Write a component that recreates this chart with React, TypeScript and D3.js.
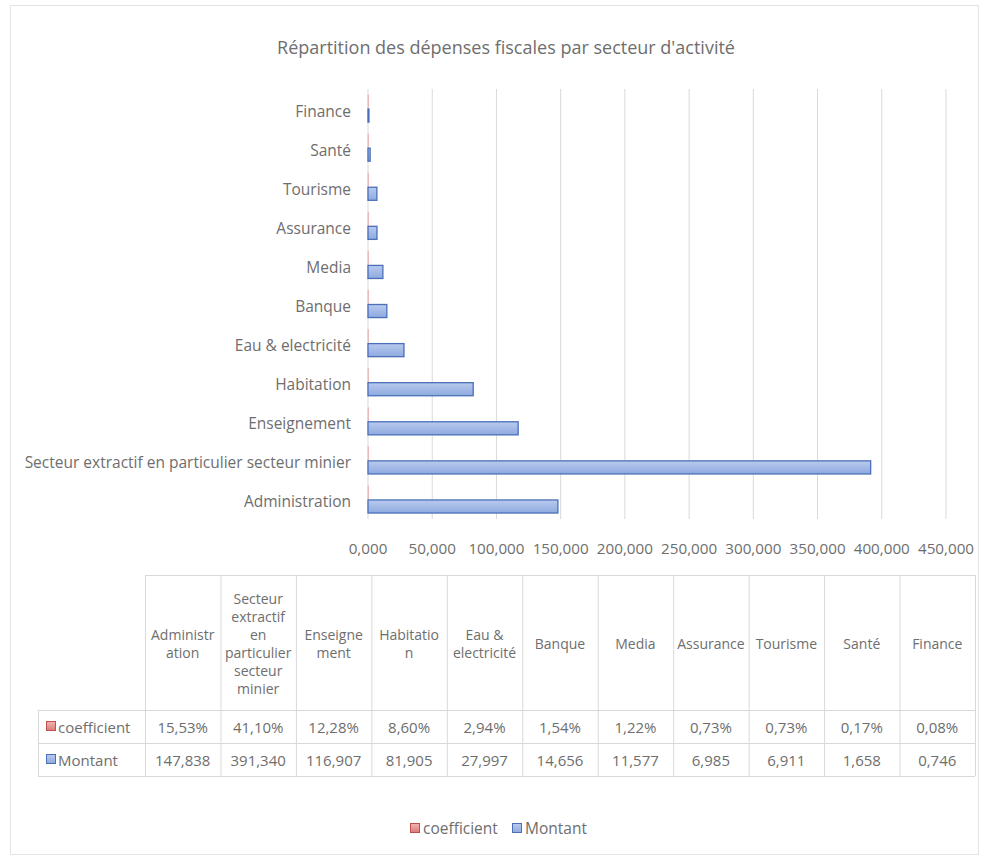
import React from 'react';
import * as d3 from 'd3';

const title = "Répartition des dépenses fiscales par secteur d'activité";
const categories = [
  'Administration',
  'Secteur extractif en particulier secteur minier',
  'Enseignement',
  'Habitation',
  'Eau & electricité',
  'Banque',
  'Media',
  'Assurance',
  'Tourisme',
  'Santé',
  'Finance',
];
const headerLines = [
  ['Administr', 'ation'],
  ['Secteur', 'extractif', 'en', 'particulier', 'secteur', 'minier'],
  ['Enseigne', 'ment'],
  ['Habitatio', 'n'],
  ['Eau &', 'electricité'],
  ['Banque'],
  ['Media'],
  ['Assurance'],
  ['Tourisme'],
  ['Santé'],
  ['Finance'],
];
const montant = [147.838, 391.34, 116.907, 81.905, 27.997, 14.656, 11.577, 6.985, 6.911, 1.658, 0.746];
const coefficient = [0.1553, 0.411, 0.1228, 0.086, 0.0294, 0.0154, 0.0122, 0.0073, 0.0073, 0.0017, 0.0008];
const seriesNames = ['coefficient', 'Montant'];
const xTicks = [0, 50, 100, 150, 200, 250, 300, 350, 400, 450];

const FONT = "'Open Sans', sans-serif";
const TXT = '#6e6e6e';
const GRID = '#d9d9d9';

export default function App() {
  const W = 989;
  const H = 861;
  const x = d3.scaleLinear().domain([0, 450]).range([368, 946]);
  const y = d3
    .scaleBand<string>()
    .domain([...categories].reverse())
    .range([89, 519])
    .paddingInner(0.28)
    .paddingOuter(0.14);
  const sub = d3.scaleBand<string>().domain(seriesNames).range([0, y.bandwidth()]);
  const loc = d3.formatLocale({ decimal: ',', thousands: '\u00a0', grouping: [3], currency: ['', '€'] });
  const f3 = loc.format('.3f');
  const fp = (v: number) => loc.format('.2f')(v * 100) + '%';

  const col = d3.scaleBand<string>().domain(categories).range([145, 975]);
  const tableTop = 575;
  const headerBottom = 710;
  const rowH = 33;
  const rowLabelLeft = 38;
  const fs = 15;

  const rows = [
    { name: 'coefficient', values: coefficient.map(fp), color: 'red' },
    { name: 'Montant', values: montant.map(f3), color: 'blue' },
  ];

  return (
    <div style={{ position: 'absolute', left: 0, top: 0 }}>
      <svg width={W} height={H} style={{ display: 'block', background: '#fff' }}>
        <defs>
          <linearGradient id="gBlue" x1="0" y1="0" x2="0" y2="1">
            <stop offset="0" stopColor="#b9caee" />
            <stop offset="1" stopColor="#8eaadf" />
          </linearGradient>
          <linearGradient id="gRed" x1="0" y1="0" x2="0" y2="1">
            <stop offset="0" stopColor="#f2b3b1" />
            <stop offset="1" stopColor="#dc7b78" />
          </linearGradient>
        </defs>
        <rect x={10.5} y={5.5} width={968} height={849} fill="#fff" stroke="#e3e3e3" />
        <text x={506} y={47} textAnchor="middle" dominantBaseline="central" fontFamily={FONT} fontSize={18} fill={TXT}>
          {title}
        </text>

        {/* gridlines */}
        {xTicks.map((t) => (
          <line key={'g' + t} x1={x(t)} x2={x(t)} y1={89} y2={519} stroke={GRID} strokeWidth={1} />
        ))}
        {/* tick labels */}
        {xTicks.map((t) => (
          <text key={'t' + t} x={x(t)} y={548} textAnchor="middle" dominantBaseline="central" fontFamily={FONT} fontSize={15.2} fill={TXT}>
            {f3(t)}
          </text>
        ))}

        {/* category labels */}
        {categories.map((c) => (
          <text key={'c' + c} x={351} y={(y(c) as number) + y.bandwidth() / 2 + 2} textAnchor="end" dominantBaseline="central" fontFamily={FONT} fontSize={15.5} fill={TXT}>
            {c}
          </text>
        ))}

        {/* bars */}
        {categories.map((c, i) => (
          <g key={'b' + c}>
            <rect
              x={x(0)}
              y={(y(c) as number) + (sub('coefficient') as number) + 0.5}
              width={Math.max(0.5, x(coefficient[i]) - x(0))}
              height={sub.bandwidth() - 1}
              fill="url(#gRed)"
              stroke="#e8a09e"
              strokeWidth={0.8}
              opacity={0.7}
            />
            <rect
              x={x(0)}
              y={(y(c) as number) + (sub('Montant') as number) + 0.5}
              width={Math.max(0.5, x(montant[i]) - x(0))}
              height={sub.bandwidth() - 1}
              fill="url(#gBlue)"
              stroke="#4a6fb8"
              strokeWidth={1.3}
            />
          </g>
        ))}

        {/* data table */}
        <g fontFamily={FONT} fontSize={fs} fill={TXT}>
          <line x1={145} x2={975} y1={tableTop + 0.5} y2={tableTop + 0.5} stroke={GRID} />
          {[0, 1, 2].map((r) => (
            <line key={'h' + r} x1={rowLabelLeft} x2={975} y1={headerBottom + r * rowH + 0.5} y2={headerBottom + r * rowH + 0.5} stroke={GRID} />
          ))}
          <line x1={rowLabelLeft + 0.5} x2={rowLabelLeft + 0.5} y1={headerBottom} y2={headerBottom + 2 * rowH} stroke={GRID} />
          {categories.map((c) => (
            <line key={'v' + c} x1={(col(c) as number) + 0.5} x2={(col(c) as number) + 0.5} y1={tableTop} y2={headerBottom + 2 * rowH} stroke={GRID} />
          ))}
          <line x1={975.5} x2={975.5} y1={tableTop} y2={headerBottom + 2 * rowH} stroke={GRID} />

          {categories.map((c, i) => {
            const lines = headerLines[i];
            const lh = 18;
            const cy = (tableTop + headerBottom) / 2 + 1;
            const cx = (col(c) as number) + col.bandwidth() / 2;
            return (
              <g key={'ht' + c}>
                {lines.map((l, k) => (
                  <text key={k} x={cx} y={cy + (k - (lines.length - 1) / 2) * lh} textAnchor="middle" dominantBaseline="central" fontSize={14}>
                    {l}
                  </text>
                ))}
              </g>
            );
          })}

          {rows.map((row, r) => {
            const cy = headerBottom + r * rowH + rowH / 2;
            return (
              <g key={'r' + row.name}>
                <rect x={46.5} y={cy - 5} width={9} height={9} fill={row.color === 'red' ? 'url(#gRed)' : 'url(#gBlue)'} stroke={row.color === 'red' ? '#c0504d' : '#4a6fb8'} />
                <text x={58} y={cy} dominantBaseline="central">{row.name}</text>
                {categories.map((c, i) => (
                  <text key={c} x={(col(c) as number) + col.bandwidth() / 2} y={cy} textAnchor="middle" dominantBaseline="central">
                    {row.values[i]}
                  </text>
                ))}
              </g>
            );
          })}
        </g>

        {/* legend */}
        <g fontFamily={FONT} fontSize={15.5} fill={TXT}>
          <rect x={410.5} y={823.5} width={9} height={9} fill="url(#gRed)" stroke="#c0504d" />
          <text x={423} y={828} dominantBaseline="central">{seriesNames[0]}</text>
          <rect x={512.5} y={823.5} width={9} height={9} fill="url(#gBlue)" stroke="#4a6fb8" />
          <text x={525} y={828} dominantBaseline="central">{seriesNames[1]}</text>
        </g>
      </svg>
    </div>
  );
}
